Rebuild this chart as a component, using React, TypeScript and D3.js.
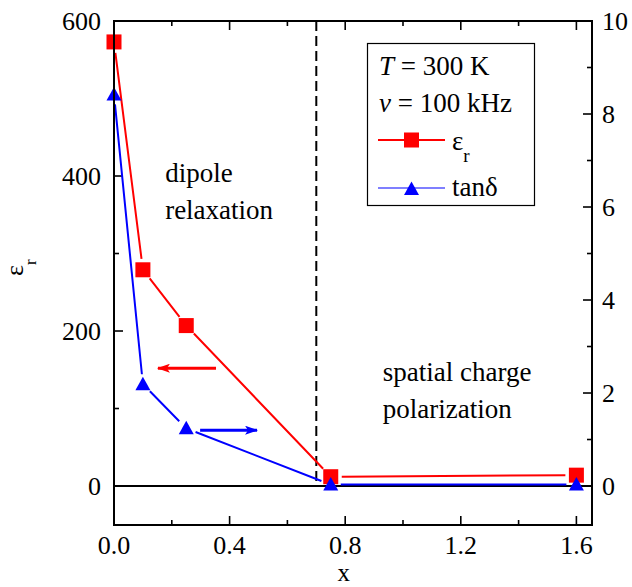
import * as d3 from "d3";

const xVals = [0, 0.1, 0.25, 0.75, 1.6];
const epsVals = [573, 279, 207, 12, 14];
const tanVals = [8.42, 2.19, 1.24, 0.03, 0.03];

const xTicks = [0, 0.4, 0.8, 1.2, 1.6];
const xMinor = [0.2, 0.6, 1.0, 1.4];
const yLeftTicks = [0, 200, 400, 600];
const yLeftMinor = [100, 300, 500];
const yRightTicks = [0, 2, 4, 6, 8, 10];
const yRightMinor = [1, 3, 5, 7, 9];

const boundaryX = 0.7;

const W = 632;
const H = 587;
const m = { left: 114, right: 40, top: 21, bottom: 62 };
const font = "Liberation Serif, Times New Roman, DejaVu Serif, serif";

const x = d3.scaleLinear([0, 1.654], [m.left, W - m.right]);
const yL = d3.scaleLinear([-50.3, 600], [H - m.bottom, m.top]);
const yR = d3.scaleLinear([-50.3 / 60, 10], [H - m.bottom, m.top]);

// shortened segments so the line leaves a small gap around each symbol
function gapSegments(pts: [number, number][], gap: number) {
  const out: string[] = [];
  for (let i = 0; i < pts.length - 1; i++) {
    const [x1, y1] = pts[i];
    const [x2, y2] = pts[i + 1];
    const len = Math.hypot(x2 - x1, y2 - y1);
    if (len <= 2 * gap) continue;
    const ux = (x2 - x1) / len;
    const uy = (y2 - y1) / len;
    out.push(`M${x1 + ux * gap},${y1 + uy * gap}L${x2 - ux * gap},${y2 - uy * gap}`);
  }
  return out.join("");
}

const tri = (cx: number, cy: number, s = 7.5) =>
  `M${cx},${cy - s}L${cx + s},${cy + s * 0.8}L${cx - s},${cy + s * 0.8}Z`;

export default function App() {
  const epsPts = xVals.map((d, i) => [x(d), yL(epsVals[i])] as [number, number]);
  const tanPts = xVals.map((d, i) => [x(d), yR(tanVals[i])] as [number, number]);
  const x0 = m.left;
  const x1 = W - m.right;
  const y0 = m.top;
  const y1 = H - m.bottom;
  const maj = 9;
  const mnr = 5;

  return (
    <svg width={W} height={H} style={{ position: "absolute", left: 0, top: 0, fontFamily: font }}>
      <defs>
        <marker id="ahR" viewBox="0 0 13 9" refX="12" refY="4.5" markerWidth="13" markerHeight="9" markerUnits="userSpaceOnUse" orient="auto">
          <path d="M0,0L13,4.5L0,9L3,4.5Z" fill="#ff0000" />
        </marker>
        <marker id="ahB" viewBox="0 0 13 9" refX="12" refY="4.5" markerWidth="13" markerHeight="9" markerUnits="userSpaceOnUse" orient="auto">
          <path d="M0,0L13,4.5L0,9L3,4.5Z" fill="#0000ff" />
        </marker>
      </defs>

      {/* zero line */}
      <line x1={x0} x2={x1} y1={yL(0)} y2={yL(0)} stroke="#000" strokeWidth={2} />
      {/* dashed boundary */}
      <line x1={x(boundaryX)} x2={x(boundaryX)} y1={y0} y2={yL(0)} stroke="#000" strokeWidth={2} strokeDasharray="10,5" />

      {/* ticks */}
      <g stroke="#000" strokeWidth={1.6}>
        {xTicks.map((t) => (
          <g key={"xt" + t}>
            <line x1={x(t)} x2={x(t)} y1={y1} y2={y1 - maj} />
            <line x1={x(t)} x2={x(t)} y1={y0} y2={y0 + maj} />
          </g>
        ))}
        {xMinor.map((t) => (
          <g key={"xm" + t}>
            <line x1={x(t)} x2={x(t)} y1={y1} y2={y1 - mnr} />
            <line x1={x(t)} x2={x(t)} y1={y0} y2={y0 + mnr} />
          </g>
        ))}
        {yLeftTicks.map((t) => (
          <line key={"yl" + t} x1={x0} x2={x0 + maj} y1={yL(t)} y2={yL(t)} />
        ))}
        {yLeftMinor.map((t) => (
          <line key={"ylm" + t} x1={x0} x2={x0 + mnr} y1={yL(t)} y2={yL(t)} />
        ))}
        {yRightTicks.map((t) => (
          <line key={"yr" + t} x1={x1} x2={x1 - maj} y1={yR(t)} y2={yR(t)} />
        ))}
        {yRightMinor.map((t) => (
          <line key={"yrm" + t} x1={x1} x2={x1 - mnr} y1={yR(t)} y2={yR(t)} />
        ))}
      </g>

      {/* tick labels */}
      <g fontSize={26} fill="#000">
        {xTicks.map((t) => (
          <text key={"xl" + t} x={x(t)} y={y1 + 29} textAnchor="middle">{t.toFixed(1)}</text>
        ))}
        {yLeftTicks.map((t) => (
          <text key={"yll" + t} x={x0 - 13} y={yL(t)} dy="0.35em" textAnchor="end">{t}</text>
        ))}
        {yRightTicks.map((t) => (
          <text key={"yrl" + t} x={x1 + 10} y={yR(t)} dy="0.35em" textAnchor="start">{t}</text>
        ))}
      </g>

      {/* axis titles */}
      <text x={x(0.795)} y={H - 6} fontSize={25} textAnchor="middle">x</text>
      <text transform={`translate(23,276) rotate(-90)`} fontSize={26}>
        ε<tspan fontSize={17} dy="13">r</tspan>
      </text>

      {/* series */}
      <path d={gapSegments(epsPts, 11)} fill="none" stroke="#ff0000" strokeWidth={2} />
      <path d={gapSegments(tanPts, 10)} fill="none" stroke="#0000ff" strokeWidth={2} />
      {epsPts.map(([cx, cy], i) => (
        <rect key={"s" + i} x={cx - 7.5} y={cy - 7.5} width={15} height={15} fill="#ff0000" />
      ))}
      {tanPts.map(([cx, cy], i) => (
        <path key={"t" + i} d={tri(cx, cy)} fill="#0000ff" />
      ))}

      {/* arrows */}
      <line x1={x(0.353)} x2={x(0.152)} y1={yL(152)} y2={yL(152)} stroke="#ff0000" strokeWidth={3} markerEnd="url(#ahR)" />
      <line x1={x(0.298)} x2={x(0.495)} y1={yR(1.2)} y2={yR(1.2)} stroke="#0000ff" strokeWidth={3} markerEnd="url(#ahB)" />

      {/* annotations */}
      <g fontSize={27} fill="#000">
        <text x={x(0.177)} y={yL(392)}>dipole</text>
        <text x={x(0.177)} y={yL(345)}>relaxation</text>
        <text x={x(0.93)} y={yL(135)}>spatial charge</text>
        <text x={x(0.93)} y={yL(88)}>polarization</text>
      </g>

      {/* legend */}
      <g>
        <rect x={367.5} y={43.5} width={167} height={162} fill="#fff" stroke="#000" strokeWidth={1.2} />
        <text x={379} y={75} fontSize={27}>
          <tspan fontStyle="italic">T</tspan> = 300 K
        </text>
        <text x={379} y={112} fontSize={27}>
          <tspan fontStyle="italic">ν</tspan> = 100 kHz
        </text>
        <line x1={378} x2={445} y1={140} y2={140} stroke="#ff0000" strokeWidth={2} />
        <rect x={404} y={132.5} width={15} height={15} fill="#ff0000" />
        <text x={452} y={150} fontSize={27}>
          ε<tspan fontSize={19} dy="12">r</tspan>
        </text>
        <line x1={378} x2={445} y1={188} y2={188} stroke="#0000ff" strokeWidth={1.2} />
        <path d={tri(411.5, 189)} fill="#0000ff" />
        <text x={452} y={196} fontSize={27}>tanδ</text>
      </g>

      {/* frame */}
      <rect x={x0} y={y0} width={x1 - x0} height={y1 - y0} fill="none" stroke="#000" strokeWidth={2} />
    </svg>
  );
}
